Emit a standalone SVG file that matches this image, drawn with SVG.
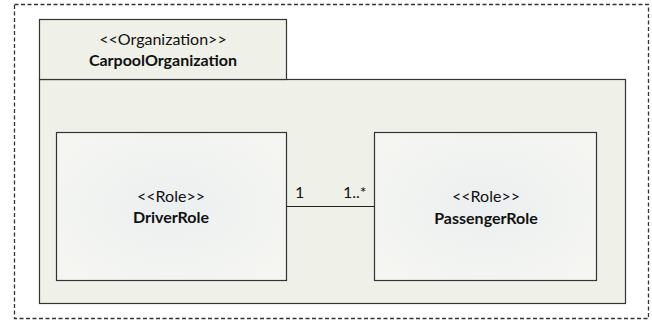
<svg xmlns="http://www.w3.org/2000/svg" width="652" height="323" viewBox="0 0 652 323">
<style>
.frame{fill:none;stroke:#333;stroke-width:1.3;stroke-dasharray:4,2.5}
.pkg{fill:#eff0e7;stroke:#333;stroke-width:1.2}
.box{fill:url(#rg);stroke:#333;stroke-width:1.2}
.st{font-family:Lato,"Open Sans",sans-serif;font-size:16px;fill:#111;text-anchor:middle}
.nm{font-family:Lato,"Open Sans",sans-serif;font-size:16px;font-weight:bold;fill:#111;text-anchor:middle}
.ml{font-family:Lato,"Open Sans",sans-serif;font-size:16px;fill:#111}
.con{stroke:#222;stroke-width:1.2;fill:none}
</style>
<defs>
<radialGradient id="rg" cx="50%" cy="50%" r="60%">
<stop offset="0" stop-color="#eceff0"/>
<stop offset="1" stop-color="#f5f6f2"/>
</radialGradient>
</defs>
<rect width="652" height="323" fill="#fff"/>
<rect class="frame" x="14.5" y="4.5" width="634" height="314"/>
<g id="CarpoolOrganization">
<rect class="pkg" x="39.5" y="79.5" width="586" height="224"/>
<rect class="pkg" x="39.5" y="19.5" width="247" height="60"/>
<text class="st" x="163" y="45">&lt;&lt;Organization&gt;&gt;</text>
<text class="nm" x="163" y="66">CarpoolOrganization</text>
</g>
<g id="DriverRole">
<rect class="box" x="56.5" y="132.5" width="230" height="148"/>
<text class="st" x="171" y="202">&lt;&lt;Role&gt;&gt;</text>
<text class="nm" x="171" y="223">DriverRole</text>
</g>
<g id="PassengerRole">
<rect class="box" x="374.5" y="132.5" width="222" height="148"/>
<text class="st" x="486" y="202">&lt;&lt;Role&gt;&gt;</text>
<text class="nm" x="486" y="224">PassengerRole</text>
</g>
<g id="connectors">
<line class="con" x1="286.5" y1="206.5" x2="374.5" y2="206.5"/>
<text class="ml" x="295" y="198">1</text>
<text class="ml" x="343" y="198">1..*</text>
</g>
</svg>
